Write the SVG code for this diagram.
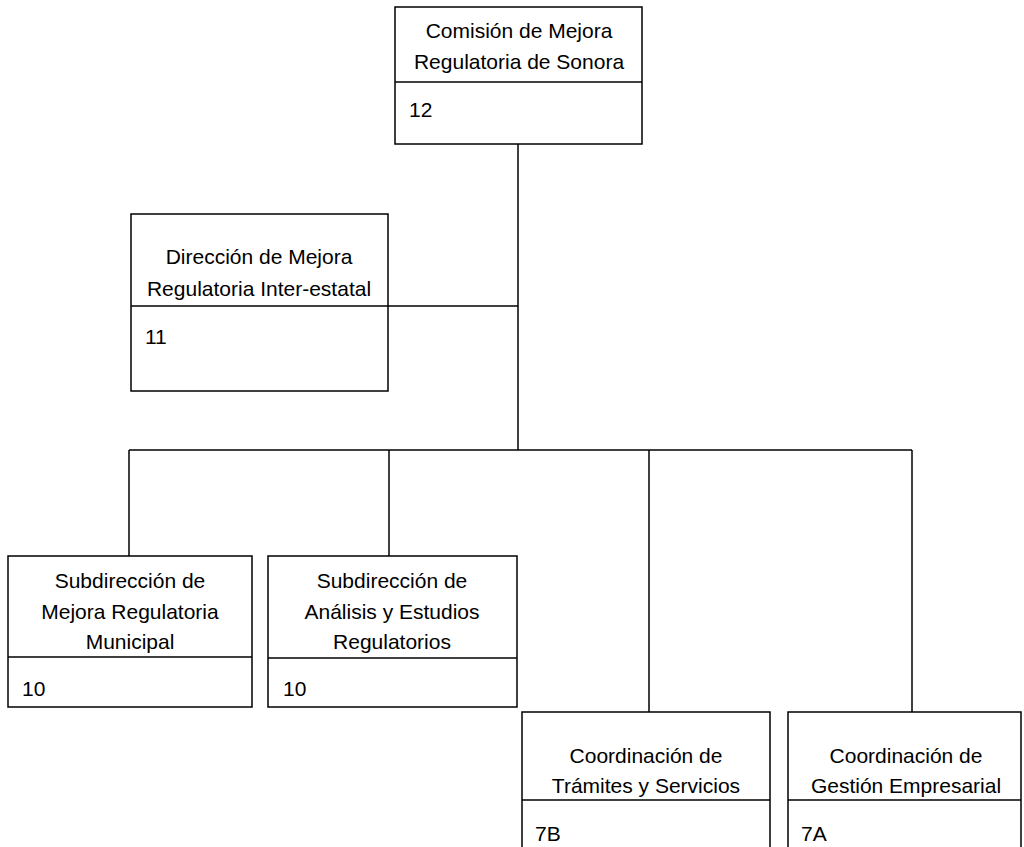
<svg xmlns="http://www.w3.org/2000/svg" width="1024" height="847" viewBox="0 0 1024 847">
<style>
.box{fill:#fff;stroke:#000;stroke-width:1.5}
.div{stroke:#000;stroke-width:1.5}
.t{font-family:"Liberation Sans",Arial,sans-serif;font-size:21px;fill:#000}
.c{text-anchor:middle}
.conn{stroke:#000;stroke-width:1.5;fill:none}
</style>
<rect width="1024" height="847" fill="#fff"/>
<g id="connectors">
<line class="conn" x1="518" y1="144" x2="518" y2="450"/>
<line class="conn" x1="388" y1="306" x2="518" y2="306"/>
<line class="conn" x1="129" y1="450" x2="912" y2="450"/>
<line class="conn" x1="129" y1="450" x2="129" y2="556"/>
<line class="conn" x1="389" y1="450" x2="389" y2="556"/>
<line class="conn" x1="649" y1="450" x2="649" y2="712"/>
<line class="conn" x1="912" y1="450" x2="912" y2="712"/>
</g>
<g id="n1">
<rect class="box" x="395" y="7" width="247" height="137"/>
<line class="div" x1="395" y1="82" x2="642" y2="82"/>
<text class="t c" x="519" y="38">Comisión de Mejora</text>
<text class="t c" x="519" y="69">Regulatoria de Sonora</text>
<text class="t" x="409" y="117">12</text>
</g>
<g id="n2">
<rect class="box" x="131" y="214" width="257" height="177"/>
<line class="div" x1="131" y1="306" x2="388" y2="306"/>
<text class="t c" x="259" y="264">Dirección de Mejora</text>
<text class="t c" x="259" y="296">Regulatoria Inter-estatal</text>
<text class="t" x="145" y="344">11</text>
</g>
<g id="n3">
<rect class="box" x="8" y="556" width="244" height="151"/>
<line class="div" x1="8" y1="657" x2="252" y2="657"/>
<text class="t c" x="130" y="588">Subdirección de</text>
<text class="t c" x="130" y="619">Mejora Regulatoria</text>
<text class="t c" x="130" y="649">Municipal</text>
<text class="t" x="22" y="696">10</text>
</g>
<g id="n4">
<rect class="box" x="268" y="556" width="249" height="151"/>
<line class="div" x1="268" y1="658" x2="517" y2="658"/>
<text class="t c" x="392" y="588">Subdirección de</text>
<text class="t c" x="392" y="619">Análisis y Estudios</text>
<text class="t c" x="392" y="649">Regulatorios</text>
<text class="t" x="283" y="696">10</text>
</g>
<g id="n5">
<rect class="box" x="522" y="712" width="248" height="150"/>
<line class="div" x1="522" y1="800" x2="770" y2="800"/>
<text class="t c" x="646" y="763">Coordinación de</text>
<text class="t c" x="646" y="793">Trámites y Servicios</text>
<text class="t" x="535" y="841">7B</text>
</g>
<g id="n6">
<rect class="box" x="788" y="712" width="233" height="150"/>
<line class="div" x1="788" y1="800" x2="1021" y2="800"/>
<text class="t c" x="906" y="763">Coordinación de</text>
<text class="t c" x="906" y="793">Gestión Empresarial</text>
<text class="t" x="801" y="841">7A</text>
</g>
</svg>
